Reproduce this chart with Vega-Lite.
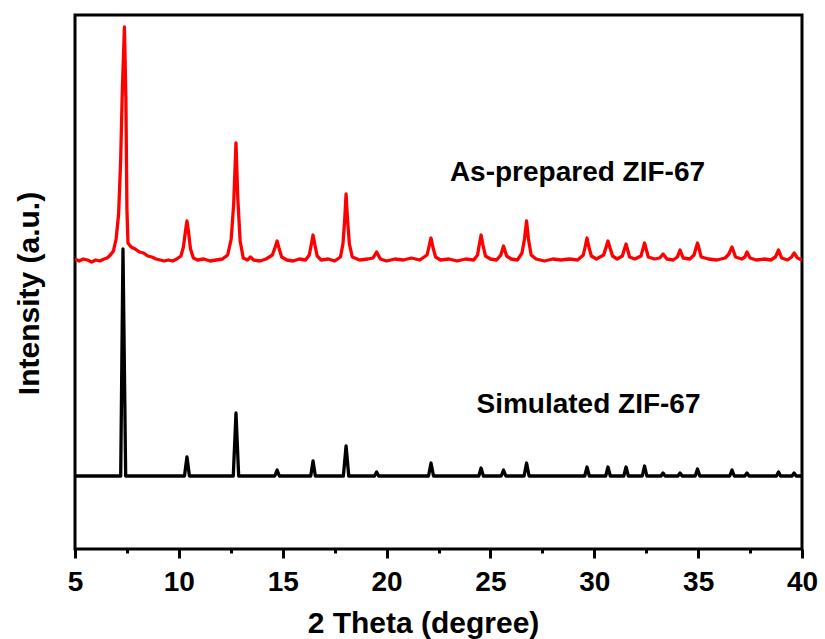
{
  "$schema": "https://vega.github.io/schema/vega-lite/v6.json",
  "width": 727,
  "height": 534,
  "autosize": {"type": "none"},
  "padding": {"left": 75, "top": 15, "right": 23, "bottom": 90},
  "config": {
    "view": {"stroke": "black", "strokeWidth": 3},
    "font": "Liberation Sans",
    "axis": {"labelFont": "Liberation Sans", "titleFont": "Liberation Sans", "labelColor": "black", "titleColor": "black", "tickColor": "black", "grid": false}
  },
  "datasets": {
    "xrd": [
      {"theta": 5.0, "intensity": 290, "series": "As-prepared"},
      {"theta": 5.2, "intensity": 288, "series": "As-prepared"},
      {"theta": 5.4, "intensity": 290, "series": "As-prepared"},
      {"theta": 5.6, "intensity": 289, "series": "As-prepared"},
      {"theta": 5.8, "intensity": 287, "series": "As-prepared"},
      {"theta": 6.0, "intensity": 289, "series": "As-prepared"},
      {"theta": 6.2, "intensity": 288, "series": "As-prepared"},
      {"theta": 6.4, "intensity": 290, "series": "As-prepared"},
      {"theta": 6.55, "intensity": 291, "series": "As-prepared"},
      {"theta": 6.7, "intensity": 294, "series": "As-prepared"},
      {"theta": 6.85, "intensity": 298, "series": "As-prepared"},
      {"theta": 6.98, "intensity": 310, "series": "As-prepared"},
      {"theta": 7.1, "intensity": 335, "series": "As-prepared"},
      {"theta": 7.2, "intensity": 390, "series": "As-prepared"},
      {"theta": 7.28, "intensity": 460, "series": "As-prepared"},
      {"theta": 7.38, "intensity": 522, "series": "As-prepared"},
      {"theta": 7.45, "intensity": 450, "series": "As-prepared"},
      {"theta": 7.5, "intensity": 340, "series": "As-prepared"},
      {"theta": 7.55, "intensity": 306, "series": "As-prepared"},
      {"theta": 7.7, "intensity": 302, "series": "As-prepared"},
      {"theta": 7.9, "intensity": 300, "series": "As-prepared"},
      {"theta": 8.1, "intensity": 297, "series": "As-prepared"},
      {"theta": 8.3, "intensity": 296, "series": "As-prepared"},
      {"theta": 8.5, "intensity": 293, "series": "As-prepared"},
      {"theta": 8.7, "intensity": 292, "series": "As-prepared"},
      {"theta": 8.9, "intensity": 290, "series": "As-prepared"},
      {"theta": 9.1, "intensity": 289, "series": "As-prepared"},
      {"theta": 9.3, "intensity": 288, "series": "As-prepared"},
      {"theta": 9.5, "intensity": 289, "series": "As-prepared"},
      {"theta": 9.7, "intensity": 288, "series": "As-prepared"},
      {"theta": 9.9, "intensity": 290, "series": "As-prepared"},
      {"theta": 10.1, "intensity": 293, "series": "As-prepared"},
      {"theta": 10.22, "intensity": 302, "series": "As-prepared"},
      {"theta": 10.32, "intensity": 318, "series": "As-prepared"},
      {"theta": 10.39, "intensity": 328, "series": "As-prepared"},
      {"theta": 10.46, "intensity": 318, "series": "As-prepared"},
      {"theta": 10.56, "intensity": 300, "series": "As-prepared"},
      {"theta": 10.7, "intensity": 291, "series": "As-prepared"},
      {"theta": 10.9, "intensity": 289, "series": "As-prepared"},
      {"theta": 11.2, "intensity": 290, "series": "As-prepared"},
      {"theta": 11.5, "intensity": 288, "series": "As-prepared"},
      {"theta": 11.8, "intensity": 289, "series": "As-prepared"},
      {"theta": 12.1, "intensity": 290, "series": "As-prepared"},
      {"theta": 12.35, "intensity": 294, "series": "As-prepared"},
      {"theta": 12.52, "intensity": 310, "series": "As-prepared"},
      {"theta": 12.64, "intensity": 345, "series": "As-prepared"},
      {"theta": 12.75, "intensity": 406, "series": "As-prepared"},
      {"theta": 12.84, "intensity": 350, "series": "As-prepared"},
      {"theta": 12.95, "intensity": 308, "series": "As-prepared"},
      {"theta": 13.1, "intensity": 291, "series": "As-prepared"},
      {"theta": 13.3, "intensity": 289, "series": "As-prepared"},
      {"theta": 13.45, "intensity": 292, "series": "As-prepared"},
      {"theta": 13.6, "intensity": 289, "series": "As-prepared"},
      {"theta": 13.9, "intensity": 288, "series": "As-prepared"},
      {"theta": 14.2, "intensity": 290, "series": "As-prepared"},
      {"theta": 14.5, "intensity": 294, "series": "As-prepared"},
      {"theta": 14.64, "intensity": 302, "series": "As-prepared"},
      {"theta": 14.73, "intensity": 308, "series": "As-prepared"},
      {"theta": 14.82, "intensity": 301, "series": "As-prepared"},
      {"theta": 14.95, "intensity": 292, "series": "As-prepared"},
      {"theta": 15.2, "intensity": 289, "series": "As-prepared"},
      {"theta": 15.5, "intensity": 288, "series": "As-prepared"},
      {"theta": 15.8, "intensity": 290, "series": "As-prepared"},
      {"theta": 16.1, "intensity": 289, "series": "As-prepared"},
      {"theta": 16.28, "intensity": 294, "series": "As-prepared"},
      {"theta": 16.38, "intensity": 305, "series": "As-prepared"},
      {"theta": 16.46, "intensity": 314, "series": "As-prepared"},
      {"theta": 16.55, "intensity": 304, "series": "As-prepared"},
      {"theta": 16.66, "intensity": 293, "series": "As-prepared"},
      {"theta": 16.85, "intensity": 289, "series": "As-prepared"},
      {"theta": 17.2, "intensity": 290, "series": "As-prepared"},
      {"theta": 17.5, "intensity": 288, "series": "As-prepared"},
      {"theta": 17.78, "intensity": 292, "series": "As-prepared"},
      {"theta": 17.9, "intensity": 305, "series": "As-prepared"},
      {"theta": 17.98, "intensity": 328, "series": "As-prepared"},
      {"theta": 18.05, "intensity": 355, "series": "As-prepared"},
      {"theta": 18.12, "intensity": 330, "series": "As-prepared"},
      {"theta": 18.21, "intensity": 305, "series": "As-prepared"},
      {"theta": 18.35, "intensity": 292, "series": "As-prepared"},
      {"theta": 18.7, "intensity": 289, "series": "As-prepared"},
      {"theta": 19.1, "intensity": 290, "series": "As-prepared"},
      {"theta": 19.35, "intensity": 291, "series": "As-prepared"},
      {"theta": 19.52, "intensity": 297, "series": "As-prepared"},
      {"theta": 19.7, "intensity": 290, "series": "As-prepared"},
      {"theta": 20.0, "intensity": 288, "series": "As-prepared"},
      {"theta": 20.4, "intensity": 290, "series": "As-prepared"},
      {"theta": 20.8, "intensity": 289, "series": "As-prepared"},
      {"theta": 21.2, "intensity": 291, "series": "As-prepared"},
      {"theta": 21.6, "intensity": 289, "series": "As-prepared"},
      {"theta": 21.95, "intensity": 294, "series": "As-prepared"},
      {"theta": 22.05, "intensity": 303, "series": "As-prepared"},
      {"theta": 22.14, "intensity": 311, "series": "As-prepared"},
      {"theta": 22.23, "intensity": 302, "series": "As-prepared"},
      {"theta": 22.36, "intensity": 292, "series": "As-prepared"},
      {"theta": 22.6, "intensity": 289, "series": "As-prepared"},
      {"theta": 23.0, "intensity": 290, "series": "As-prepared"},
      {"theta": 23.4, "intensity": 288, "series": "As-prepared"},
      {"theta": 23.8, "intensity": 290, "series": "As-prepared"},
      {"theta": 24.2, "intensity": 289, "series": "As-prepared"},
      {"theta": 24.38, "intensity": 294, "series": "As-prepared"},
      {"theta": 24.47, "intensity": 305, "series": "As-prepared"},
      {"theta": 24.55, "intensity": 314, "series": "As-prepared"},
      {"theta": 24.64, "intensity": 304, "series": "As-prepared"},
      {"theta": 24.76, "intensity": 293, "series": "As-prepared"},
      {"theta": 25.0, "intensity": 290, "series": "As-prepared"},
      {"theta": 25.3, "intensity": 289, "series": "As-prepared"},
      {"theta": 25.5, "intensity": 294, "series": "As-prepared"},
      {"theta": 25.63, "intensity": 303, "series": "As-prepared"},
      {"theta": 25.78, "intensity": 293, "series": "As-prepared"},
      {"theta": 26.0, "intensity": 290, "series": "As-prepared"},
      {"theta": 26.3, "intensity": 289, "series": "As-prepared"},
      {"theta": 26.52, "intensity": 296, "series": "As-prepared"},
      {"theta": 26.64, "intensity": 310, "series": "As-prepared"},
      {"theta": 26.74, "intensity": 328, "series": "As-prepared"},
      {"theta": 26.83, "intensity": 310, "series": "As-prepared"},
      {"theta": 26.96, "intensity": 294, "series": "As-prepared"},
      {"theta": 27.2, "intensity": 290, "series": "As-prepared"},
      {"theta": 27.6, "intensity": 288, "series": "As-prepared"},
      {"theta": 28.0, "intensity": 290, "series": "As-prepared"},
      {"theta": 28.4, "intensity": 289, "series": "As-prepared"},
      {"theta": 28.8, "intensity": 290, "series": "As-prepared"},
      {"theta": 29.2, "intensity": 289, "series": "As-prepared"},
      {"theta": 29.47, "intensity": 294, "series": "As-prepared"},
      {"theta": 29.57, "intensity": 303, "series": "As-prepared"},
      {"theta": 29.65, "intensity": 311, "series": "As-prepared"},
      {"theta": 29.74, "intensity": 302, "series": "As-prepared"},
      {"theta": 29.86, "intensity": 293, "series": "As-prepared"},
      {"theta": 30.1, "intensity": 290, "series": "As-prepared"},
      {"theta": 30.45, "intensity": 294, "series": "As-prepared"},
      {"theta": 30.57, "intensity": 302, "series": "As-prepared"},
      {"theta": 30.66, "intensity": 308, "series": "As-prepared"},
      {"theta": 30.76, "intensity": 301, "series": "As-prepared"},
      {"theta": 30.88, "intensity": 293, "series": "As-prepared"},
      {"theta": 31.1, "intensity": 290, "series": "As-prepared"},
      {"theta": 31.35, "intensity": 293, "series": "As-prepared"},
      {"theta": 31.53, "intensity": 305, "series": "As-prepared"},
      {"theta": 31.7, "intensity": 292, "series": "As-prepared"},
      {"theta": 31.95, "intensity": 290, "series": "As-prepared"},
      {"theta": 32.25, "intensity": 293, "series": "As-prepared"},
      {"theta": 32.42, "intensity": 306, "series": "As-prepared"},
      {"theta": 32.6, "intensity": 292, "series": "As-prepared"},
      {"theta": 32.9, "intensity": 290, "series": "As-prepared"},
      {"theta": 33.15, "intensity": 291, "series": "As-prepared"},
      {"theta": 33.31, "intensity": 295, "series": "As-prepared"},
      {"theta": 33.5, "intensity": 290, "series": "As-prepared"},
      {"theta": 33.8, "intensity": 289, "series": "As-prepared"},
      {"theta": 34.0, "intensity": 292, "series": "As-prepared"},
      {"theta": 34.13, "intensity": 299, "series": "As-prepared"},
      {"theta": 34.28, "intensity": 291, "series": "As-prepared"},
      {"theta": 34.6, "intensity": 290, "series": "As-prepared"},
      {"theta": 34.8, "intensity": 294, "series": "As-prepared"},
      {"theta": 34.97, "intensity": 306, "series": "As-prepared"},
      {"theta": 35.15, "intensity": 292, "series": "As-prepared"},
      {"theta": 35.5, "intensity": 290, "series": "As-prepared"},
      {"theta": 35.9, "intensity": 289, "series": "As-prepared"},
      {"theta": 36.3, "intensity": 291, "series": "As-prepared"},
      {"theta": 36.48, "intensity": 295, "series": "As-prepared"},
      {"theta": 36.63, "intensity": 302, "series": "As-prepared"},
      {"theta": 36.8, "intensity": 292, "series": "As-prepared"},
      {"theta": 37.1, "intensity": 290, "series": "As-prepared"},
      {"theta": 37.25, "intensity": 292, "series": "As-prepared"},
      {"theta": 37.35, "intensity": 297, "series": "As-prepared"},
      {"theta": 37.5, "intensity": 291, "series": "As-prepared"},
      {"theta": 37.8, "intensity": 289, "series": "As-prepared"},
      {"theta": 38.2, "intensity": 290, "series": "As-prepared"},
      {"theta": 38.5, "intensity": 289, "series": "As-prepared"},
      {"theta": 38.72, "intensity": 292, "series": "As-prepared"},
      {"theta": 38.87, "intensity": 299, "series": "As-prepared"},
      {"theta": 39.02, "intensity": 291, "series": "As-prepared"},
      {"theta": 39.3, "intensity": 289, "series": "As-prepared"},
      {"theta": 39.5, "intensity": 292, "series": "As-prepared"},
      {"theta": 39.62, "intensity": 296, "series": "As-prepared"},
      {"theta": 39.78, "intensity": 291, "series": "As-prepared"},
      {"theta": 40.0, "intensity": 289, "series": "As-prepared"},

      {"theta": 5.0, "intensity": 73, "series": "Simulated"},
      {"theta": 7.2, "intensity": 73, "series": "Simulated"},
      {"theta": 7.31, "intensity": 300, "series": "Simulated"},
      {"theta": 7.44, "intensity": 73, "series": "Simulated"},
      {"theta": 10.27, "intensity": 73, "series": "Simulated"},
      {"theta": 10.39, "intensity": 92, "series": "Simulated"},
      {"theta": 10.51, "intensity": 73, "series": "Simulated"},
      {"theta": 12.62, "intensity": 73, "series": "Simulated"},
      {"theta": 12.75, "intensity": 136, "series": "Simulated"},
      {"theta": 12.88, "intensity": 73, "series": "Simulated"},
      {"theta": 14.62, "intensity": 73, "series": "Simulated"},
      {"theta": 14.73, "intensity": 79, "series": "Simulated"},
      {"theta": 14.84, "intensity": 73, "series": "Simulated"},
      {"theta": 16.35, "intensity": 73, "series": "Simulated"},
      {"theta": 16.46, "intensity": 88, "series": "Simulated"},
      {"theta": 16.57, "intensity": 73, "series": "Simulated"},
      {"theta": 17.92, "intensity": 73, "series": "Simulated"},
      {"theta": 18.05, "intensity": 103, "series": "Simulated"},
      {"theta": 18.18, "intensity": 73, "series": "Simulated"},
      {"theta": 19.42, "intensity": 73, "series": "Simulated"},
      {"theta": 19.52, "intensity": 77, "series": "Simulated"},
      {"theta": 19.62, "intensity": 73, "series": "Simulated"},
      {"theta": 22.02, "intensity": 73, "series": "Simulated"},
      {"theta": 22.14, "intensity": 86, "series": "Simulated"},
      {"theta": 22.26, "intensity": 73, "series": "Simulated"},
      {"theta": 24.44, "intensity": 73, "series": "Simulated"},
      {"theta": 24.55, "intensity": 81, "series": "Simulated"},
      {"theta": 24.66, "intensity": 73, "series": "Simulated"},
      {"theta": 25.52, "intensity": 73, "series": "Simulated"},
      {"theta": 25.63, "intensity": 79, "series": "Simulated"},
      {"theta": 25.74, "intensity": 73, "series": "Simulated"},
      {"theta": 26.62, "intensity": 73, "series": "Simulated"},
      {"theta": 26.74, "intensity": 86, "series": "Simulated"},
      {"theta": 26.86, "intensity": 73, "series": "Simulated"},
      {"theta": 29.54, "intensity": 73, "series": "Simulated"},
      {"theta": 29.65, "intensity": 82, "series": "Simulated"},
      {"theta": 29.76, "intensity": 73, "series": "Simulated"},
      {"theta": 30.55, "intensity": 73, "series": "Simulated"},
      {"theta": 30.66, "intensity": 82, "series": "Simulated"},
      {"theta": 30.77, "intensity": 73, "series": "Simulated"},
      {"theta": 31.42, "intensity": 73, "series": "Simulated"},
      {"theta": 31.53, "intensity": 82, "series": "Simulated"},
      {"theta": 31.64, "intensity": 73, "series": "Simulated"},
      {"theta": 32.31, "intensity": 73, "series": "Simulated"},
      {"theta": 32.42, "intensity": 83, "series": "Simulated"},
      {"theta": 32.53, "intensity": 73, "series": "Simulated"},
      {"theta": 33.21, "intensity": 73, "series": "Simulated"},
      {"theta": 33.31, "intensity": 76, "series": "Simulated"},
      {"theta": 33.41, "intensity": 73, "series": "Simulated"},
      {"theta": 34.03, "intensity": 73, "series": "Simulated"},
      {"theta": 34.13, "intensity": 76, "series": "Simulated"},
      {"theta": 34.23, "intensity": 73, "series": "Simulated"},
      {"theta": 34.86, "intensity": 73, "series": "Simulated"},
      {"theta": 34.97, "intensity": 80, "series": "Simulated"},
      {"theta": 35.08, "intensity": 73, "series": "Simulated"},
      {"theta": 36.52, "intensity": 73, "series": "Simulated"},
      {"theta": 36.63, "intensity": 79, "series": "Simulated"},
      {"theta": 36.74, "intensity": 73, "series": "Simulated"},
      {"theta": 37.25, "intensity": 73, "series": "Simulated"},
      {"theta": 37.35, "intensity": 76, "series": "Simulated"},
      {"theta": 37.45, "intensity": 73, "series": "Simulated"},
      {"theta": 38.77, "intensity": 73, "series": "Simulated"},
      {"theta": 38.87, "intensity": 77, "series": "Simulated"},
      {"theta": 38.97, "intensity": 73, "series": "Simulated"},
      {"theta": 39.52, "intensity": 73, "series": "Simulated"},
      {"theta": 39.62, "intensity": 76, "series": "Simulated"},
      {"theta": 39.72, "intensity": 73, "series": "Simulated"},
      {"theta": 40.0, "intensity": 73, "series": "Simulated"}
    ],
    "labels": [
      {"label": "As-prepared ZIF-67", "theta": 29.19, "intensity": 376},
      {"label": "Simulated ZIF-67", "theta": 29.72, "intensity": 144}
    ]
  },
  "layer": [
    {
      "data": {"name": "xrd"},
      "mark": {"type": "line", "strokeWidth": 3.3, "strokeJoin": "round", "clip": true},
      "encoding": {
        "x": {
          "field": "theta", "type": "quantitative",
          "scale": {"domain": [5, 40], "nice": false, "zero": false},
          "axis": {
            "title": "2 Theta (degree)",
            "values": [5, 10, 15, 20, 25, 30, 35, 40],
            "domain": false,
            "tickSize": 9, "tickWidth": 3,
            "labelFontSize": 28, "labelFontWeight": "bold", "labelPadding": 10,
            "labelFlush": false, "labelOverlap": false,
            "titleFontSize": 30, "titleFontWeight": "bold", "titlePadding": 12, "titleX": 348
          }
        },
        "y": {
          "field": "intensity", "type": "quantitative",
          "scale": {"domain": [0, 534], "nice": false},
          "axis": {
            "title": "Intensity (a.u.)",
            "domain": false, "ticks": false, "labels": false,
            "titleFontSize": 30, "titleFontWeight": "bold", "titlePadding": 31, "titleY": 278
          }
        },
        "color": {
          "field": "series", "type": "nominal",
          "scale": {"domain": ["As-prepared", "Simulated"], "range": ["#ff0000", "#000000"]},
          "legend": null
        },
        "order": {"field": "theta", "type": "quantitative"}
      }
    },
    {
      "data": {"name": "labels"},
      "mark": {"type": "text", "fontSize": 28, "fontWeight": "bold", "font": "Liberation Sans", "align": "center", "baseline": "middle", "color": "black"},
      "encoding": {
        "x": {
          "field": "theta", "type": "quantitative",
          "scale": {"domain": [5, 40], "nice": false, "zero": false},
          "axis": {
            "orient": "bottom", "title": null, "labels": false, "domain": false,
            "values": [7.5, 12.5, 17.5, 22.5, 27.5, 32.5, 37.5],
            "tickSize": 4, "tickWidth": 3
          }
        },
        "y": {
          "field": "intensity", "type": "quantitative",
          "scale": {"domain": [0, 534], "nice": false},
          "axis": {
            "title": "Intensity (a.u.)",
            "domain": false, "ticks": false, "labels": false,
            "titleFontSize": 30, "titleFontWeight": "bold", "titlePadding": 31, "titleY": 278
          }
        },
        "text": {"field": "label"}
      }
    }
  ],
  "resolve": {"axis": {"x": "independent"}}
}
